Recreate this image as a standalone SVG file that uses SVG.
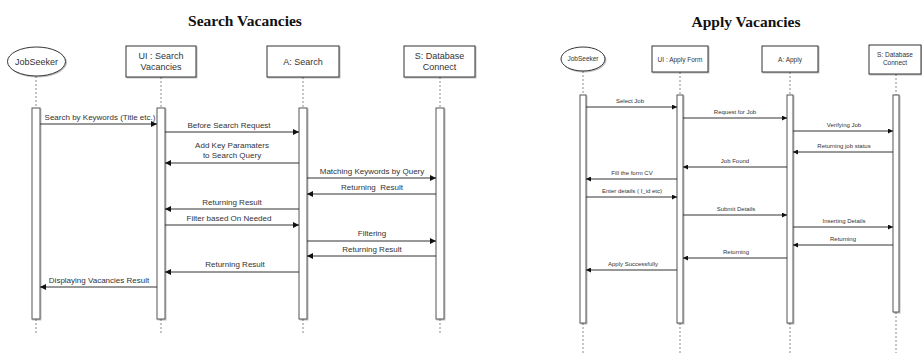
<svg xmlns="http://www.w3.org/2000/svg" width="922" height="353" viewBox="0 0 922 353">
  <style>
    .title { font-family: "Liberation Serif", serif; font-weight: bold; font-size: 15.5px; fill: #111; text-anchor: middle; }
    .node { fill: #fff; stroke: #333; stroke-width: 1; }
    .ntxt { font-family: "Liberation Sans", Arial, sans-serif; font-size: 9px; fill: #333; text-anchor: middle; }
    .ntxt-s { font-family: "Liberation Sans", Arial, sans-serif; font-size: 6.5px; fill: #333; text-anchor: middle; }
    .life { stroke: #888; stroke-width: 1; stroke-dasharray: 2 2; fill: none; }
    .bar { fill: #fff; stroke: #555; stroke-width: 1; }
    .msg { stroke: #333; stroke-width: 1; fill: none; }
    .big { marker-end: url(#head); }
    .small { marker-end: url(#head-s); }
    .lbl { font-family: "Liberation Sans", Arial, sans-serif; font-size: 8px; fill: #333; text-anchor: middle; }
    .lbl-s { font-family: "Liberation Sans", Arial, sans-serif; font-size: 6px; fill: #333; text-anchor: middle; }
  </style>
  <defs>
    <marker id="head" viewBox="0 0 10 10" refX="10" refY="5" markerWidth="7" markerHeight="6" markerUnits="userSpaceOnUse" orient="auto">
      <path d="M0,0 L10,5 L0,10 Z" fill="#111"/>
    </marker>
    <marker id="head-s" viewBox="0 0 10 10" refX="10" refY="5" markerWidth="5" markerHeight="5" markerUnits="userSpaceOnUse" orient="auto">
      <path d="M0,0 L10,5 L0,10 Z" fill="#111"/>
    </marker>
    <filter id="shadow" x="-20%" y="-20%" width="140%" height="140%">
      <feDropShadow dx="1" dy="1" stdDeviation="0.6" flood-color="#000" flood-opacity="0.25"/>
    </filter>
  </defs>

  <rect width="922" height="353" fill="#fff"/>

  <!-- Search Vacancies -->
  <text class="title" x="245" y="26">Search Vacancies</text>

  <g id="search-jobseeker">
    <line class="life" x1="36" y1="76" x2="36" y2="108"/>
    <line class="life" x1="36" y1="319" x2="36" y2="334"/>
    <ellipse class="node" cx="36.5" cy="61.5" rx="29" ry="14.5" filter="url(#shadow)"/>
    <text class="ntxt" x="36.5" y="64.5" font-size="8">JobSeeker</text>
    <rect class="bar" x="32" y="108" width="8" height="211" filter="url(#shadow)"/>
  </g>

  <g id="search-ui">
    <line class="life" x1="161" y1="77" x2="161" y2="108"/>
    <line class="life" x1="161" y1="319" x2="161" y2="334"/>
    <rect class="node" x="126" y="46" width="70" height="31" filter="url(#shadow)"/>
    <text class="ntxt" x="161" y="59">UI : Search</text>
    <text class="ntxt" x="161" y="70">Vacancies</text>
    <rect class="bar" x="157" y="108" width="8" height="211" filter="url(#shadow)"/>
  </g>

  <g id="search-a">
    <line class="life" x1="303" y1="77" x2="303" y2="108"/>
    <line class="life" x1="303" y1="319" x2="303" y2="334"/>
    <rect class="node" x="267" y="46" width="72" height="31" filter="url(#shadow)"/>
    <text class="ntxt" x="303" y="65">A: Search</text>
    <rect class="bar" x="299" y="108" width="8" height="211" filter="url(#shadow)"/>
  </g>

  <g id="search-s">
    <line class="life" x1="440" y1="77" x2="440" y2="108"/>
    <line class="life" x1="440" y1="319" x2="440" y2="334"/>
    <rect class="node" x="404" y="46" width="71" height="31" filter="url(#shadow)"/>
    <text class="ntxt" x="439.5" y="59">S: Database</text>
    <text class="ntxt" x="439.5" y="70">Connect</text>
    <rect class="bar" x="436" y="108" width="8" height="211" filter="url(#shadow)"/>
  </g>

  <g id="search-messages">
    <line class="msg big" x1="40" y1="124" x2="157" y2="124"/>
    <text class="lbl" x="100" y="120">Search by Keywords (Title etc.)</text>
    <line class="msg big" x1="165" y1="132" x2="299" y2="132"/>
    <text class="lbl" x="229" y="128">Before Search Request</text>
    <line class="msg big" x1="299" y1="163" x2="165" y2="163"/>
    <text class="lbl" x="232" y="148">Add Key Paramaters</text>
    <text class="lbl" x="232" y="158">to Search Query</text>
    <line class="msg big" x1="307" y1="178" x2="436" y2="178"/>
    <text class="lbl" x="372" y="174">Matching Keywords by Query</text>
    <line class="msg big" x1="436" y1="194" x2="307" y2="194"/>
    <text class="lbl" x="372" y="190" xml:space="preserve">Returning  Result</text>
    <line class="msg big" x1="299" y1="209" x2="165" y2="209"/>
    <text class="lbl" x="232" y="205">Returning Result</text>
    <line class="msg big" x1="165" y1="225" x2="299" y2="225"/>
    <text class="lbl" x="229" y="221">Filter based On Needed</text>
    <line class="msg big" x1="307" y1="241" x2="436" y2="241"/>
    <text class="lbl" x="372" y="236">Filtering</text>
    <line class="msg big" x1="436" y1="256" x2="307" y2="256"/>
    <text class="lbl" x="372" y="252">Returning Result</text>
    <line class="msg big" x1="299" y1="272" x2="165" y2="272"/>
    <text class="lbl" x="235" y="267">Returning Result</text>
    <line class="msg big" x1="157" y1="287" x2="40" y2="287"/>
    <text class="lbl" x="99" y="283">Displaying Vacancies Result</text>
  </g>

  <!-- Apply Vacancies -->
  <text class="title" x="746" y="27">Apply Vacancies</text>

  <g id="apply-jobseeker">
    <line class="life" x1="583" y1="71" x2="583" y2="95"/>
    <line class="life" x1="583" y1="323" x2="583" y2="353"/>
    <ellipse class="node" cx="583" cy="59" rx="22" ry="12" filter="url(#shadow)"/>
    <text class="ntxt-s" x="583" y="61" font-size="6">JobSeeker</text>
    <rect class="bar" x="580" y="95" width="6" height="228" filter="url(#shadow)"/>
  </g>

  <g id="apply-ui">
    <line class="life" x1="680" y1="72" x2="680" y2="95"/>
    <line class="life" x1="680" y1="323" x2="680" y2="353"/>
    <rect class="node" x="652" y="46" width="56" height="26" filter="url(#shadow)"/>
    <text class="ntxt-s" x="680" y="61.5">UI : Apply Form</text>
    <rect class="bar" x="677" y="95" width="6" height="228" filter="url(#shadow)"/>
  </g>

  <g id="apply-a">
    <line class="life" x1="790" y1="72" x2="790" y2="95"/>
    <line class="life" x1="790" y1="323" x2="790" y2="353"/>
    <rect class="node" x="762" y="46" width="56" height="26" filter="url(#shadow)"/>
    <text class="ntxt-s" x="790" y="61.5">A: Apply</text>
    <rect class="bar" x="787" y="95" width="6" height="228" filter="url(#shadow)"/>
  </g>

  <g id="apply-s">
    <line class="life" x1="896" y1="74" x2="896" y2="95"/>
    <line class="life" x1="896" y1="312" x2="896" y2="353"/>
    <rect class="node" x="869" y="45" width="52" height="29" filter="url(#shadow)"/>
    <text class="ntxt-s" x="895" y="57">S: Database</text>
    <text class="ntxt-s" x="895" y="65">Connect</text>
    <rect class="bar" x="893" y="95" width="6" height="217" filter="url(#shadow)"/>
  </g>

  <g id="apply-messages">
    <line class="msg small" x1="586" y1="107" x2="677" y2="107"/>
    <text class="lbl-s" x="630" y="103">Select Job</text>
    <line class="msg small" x1="683" y1="118" x2="787" y2="118"/>
    <text class="lbl-s" x="735" y="114">Request for Job</text>
    <line class="msg small" x1="793" y1="131" x2="893" y2="131"/>
    <text class="lbl-s" x="844" y="127">Verifying Job</text>
    <line class="msg small" x1="893" y1="152" x2="793" y2="152"/>
    <text class="lbl-s" x="844" y="148">Returning job status</text>
    <line class="msg small" x1="787" y1="167" x2="683" y2="167"/>
    <text class="lbl-s" x="735" y="163">Job Found</text>
    <line class="msg small" x1="677" y1="179" x2="586" y2="179"/>
    <text class="lbl-s" x="632" y="175">Fill the form CV</text>
    <line class="msg small" x1="586" y1="197" x2="677" y2="197"/>
    <text class="lbl-s" x="632" y="193">Enter details ( I_id etc)</text>
    <line class="msg small" x1="683" y1="215" x2="787" y2="215"/>
    <text class="lbl-s" x="736" y="211">Submit Details</text>
    <line class="msg small" x1="793" y1="227" x2="893" y2="227"/>
    <text class="lbl-s" x="844" y="223">Inserting Details</text>
    <line class="msg small" x1="893" y1="245" x2="793" y2="245"/>
    <text class="lbl-s" x="843" y="241">Returning</text>
    <line class="msg small" x1="787" y1="258" x2="683" y2="258"/>
    <text class="lbl-s" x="736" y="254">Returning</text>
    <line class="msg small" x1="677" y1="270" x2="586" y2="270"/>
    <text class="lbl-s" x="633" y="266">Apply Successfully</text>
  </g>
</svg>
